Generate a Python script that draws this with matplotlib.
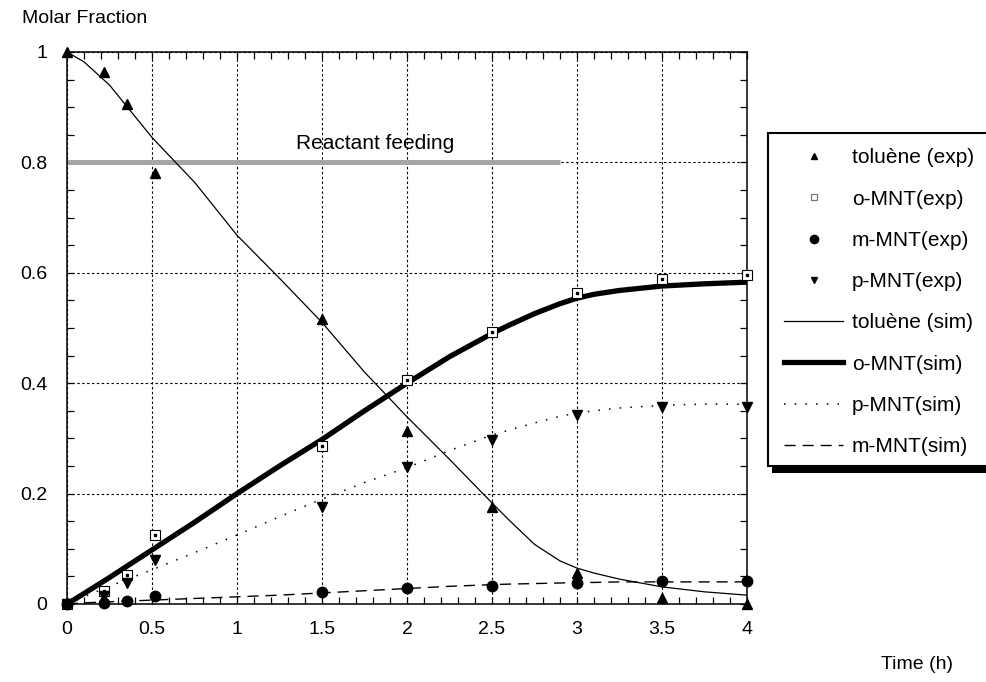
import matplotlib.pyplot as plt
from matplotlib.patches import Rectangle
from matplotlib.lines import Line2D
from matplotlib.ticker import MultipleLocator, FormatStrFormatter

plt.rcParams['font.family'] = ['Liberation Sans', 'DejaVu Sans']

# experimental points
t_exp = [0, 0.22, 0.35, 0.52, 1.5, 2.0, 2.5, 3.0, 3.5, 4.0]
tol_exp = [1.0, 0.964, 0.906, 0.781, 0.516, 0.313, 0.175, 0.056, 0.010, 0.0]
omnt_exp = [0.0, 0.024, 0.053, 0.125, 0.286, 0.405, 0.493, 0.563, 0.589, 0.596]
mmnt_exp = [0.0, 0.002, 0.005, 0.014, 0.022, 0.029, 0.033, 0.038, 0.042, 0.042]
pmnt_exp = [0.0, 0.014, 0.038, 0.080, 0.176, 0.248, 0.297, 0.342, 0.357, 0.357]

# simulated curves
t_sim = [0, 0.1, 0.25, 0.5, 0.75, 1.0, 1.25, 1.5, 1.75, 2.0, 2.25, 2.5, 2.6, 2.75, 2.9,
         3.0, 3.1, 3.25, 3.5, 3.75, 4.0]
tol_sim = [1.0, 0.982, 0.94, 0.845, 0.764, 0.668, 0.59, 0.51, 0.42, 0.339, 0.262, 0.183, 0.152,
           0.108, 0.078, 0.065, 0.056, 0.045, 0.031, 0.022, 0.016]
omnt_sim = [0.0, 0.019, 0.048, 0.098, 0.148, 0.2, 0.25, 0.298, 0.35, 0.40, 0.448, 0.49, 0.505,
            0.526, 0.544, 0.554, 0.561, 0.568, 0.576, 0.58, 0.583]
pmnt_sim = [0.0, 0.013, 0.032, 0.062, 0.093, 0.125, 0.158, 0.19, 0.22, 0.247, 0.278, 0.306, 0.315,
            0.328, 0.34, 0.346, 0.35, 0.355, 0.36, 0.362, 0.362]
mmnt_sim = [0.0, 0.002, 0.004, 0.007, 0.010, 0.013, 0.016, 0.020, 0.024, 0.028, 0.032, 0.035, 0.036,
            0.037, 0.038, 0.039, 0.039, 0.040, 0.040, 0.040, 0.040]

feed_t = [0, 2.9]
feed_y = [0.8, 0.8]

fig = plt.figure(figsize=(9.86, 6.82), dpi=100)
ax = fig.add_axes([0.068, 0.1144, 0.6896, 0.8094])

ax.grid(True, which='major', color='black', linestyle=(0, (2.2, 2.2)), linewidth=0.8)
ax.set_axisbelow(True)

ax.plot(feed_t, feed_y, color='#a6a6a6', lw=3.6, solid_capstyle='butt', zorder=2)
ax.text(1.81, 0.835, 'Reactant feeding', fontsize=15, ha='center', va='center')

ax.plot(t_sim, tol_sim, color='black', lw=0.9, zorder=3)
ax.plot(t_sim, omnt_sim, color='black', lw=3.8, zorder=3)
ax.plot(t_sim, pmnt_sim, color='black', lw=1.1, linestyle=(0, (1, 6)), zorder=3)
ax.plot(t_sim, mmnt_sim, color='black', lw=1.0, linestyle=(0, (8, 5)), zorder=3)

ax.plot(t_exp, tol_exp, '^', color='black', ms=7, clip_on=False, zorder=5)
ax.plot(t_exp, omnt_exp, 's', mfc='white', mec='black', mew=0.8, ms=7, clip_on=False, zorder=5)
ax.plot(t_exp, omnt_exp, 's', color='black', ms=1.5, clip_on=False, zorder=6)
ax.plot(t_exp, mmnt_exp, 'o', color='black', ms=7.5, clip_on=False, zorder=5)
ax.plot(t_exp, pmnt_exp, 'v', color='black', ms=7, clip_on=False, zorder=5)

ax.set_xlim(0, 4)
ax.set_ylim(0, 1)
ax.xaxis.set_major_locator(MultipleLocator(0.5))
ax.xaxis.set_minor_locator(MultipleLocator(0.1))
ax.yaxis.set_major_locator(MultipleLocator(0.2))
ax.yaxis.set_minor_locator(MultipleLocator(0.05))
ax.xaxis.set_major_formatter(FormatStrFormatter('%g'))
ax.yaxis.set_major_formatter(FormatStrFormatter('%g'))
ax.tick_params(which='both', direction='in', top=True, right=True, length=5, width=0.9)
ax.tick_params(axis='x', labelsize=14, pad=12)
ax.tick_params(axis='y', labelsize=14, pad=14)
for s in ax.spines.values():
    s.set_linewidth(1.1)

fig.text(0.022, 0.973, 'Molar Fraction', fontsize=14, ha='left', va='center')
fig.text(0.967, 0.025, 'Time (h)', fontsize=14, ha='right', va='center')

# legend box with shadow
fig.patches.append(Rectangle((772 / 986, 1 - 473 / 682), 0.3, (473 - 136) / 682,
                             transform=fig.transFigure, facecolor='black', edgecolor='none', zorder=1))
fig.patches.append(Rectangle((768 / 986, 1 - 466 / 682), 0.3, (466 - 133) / 682,
                             transform=fig.transFigure, facecolor='white', edgecolor='black', lw=1.5, zorder=2))

handles = [
    Line2D([], [], ls='none', marker='^', color='black', ms=5),
    Line2D([], [], ls='none', marker='s', mfc='white', mec='#777777', ms=5, mew=0.9),
    Line2D([], [], ls='none', marker='o', color='black', ms=6),
    Line2D([], [], ls='none', marker='v', color='black', ms=5),
    Line2D([], [], color='black', lw=0.9),
    Line2D([], [], color='black', lw=3.8),
    Line2D([], [], color='black', lw=1.1, ls=(0, (1, 6))),
    Line2D([], [], color='black', lw=1.0, ls=(0, (8, 5))),
]
labels = ['toluène (exp)', 'o-MNT(exp)', 'm-MNT(exp)', 'p-MNT(exp)',
          'toluène (sim)', 'o-MNT(sim)', 'p-MNT(sim)', 'm-MNT(sim)']
leg = fig.legend(handles, labels, loc='upper left', bbox_to_anchor=(776 / 986, 1 - 140 / 682),
                 frameon=False, fontsize=15, handlelength=2.8, handletextpad=0.45,
                 labelspacing=1.07, borderaxespad=0)
leg.set_zorder(3)

fig.savefig('out.png', dpi=100)
